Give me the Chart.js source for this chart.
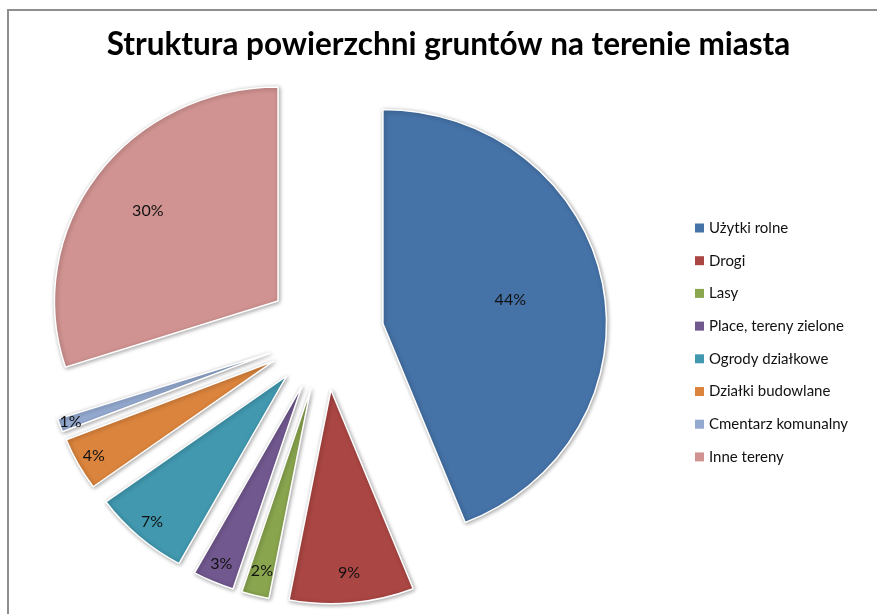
<!DOCTYPE html>
<html lang="pl">
<head>
<meta charset="utf-8">
<title>Struktura powierzchni gruntów</title>
<script src="https://cdn.jsdelivr.net/npm/chart.js@4"></script>
<style>
    html, body { margin: 0; padding: 0; background: #fff; overflow: hidden; }
    #ramka {
        position: absolute; left: 7px; top: 9px; width: 1000px; height: 1000px;
        border-left: 2px solid #8e8e8e; border-top: 2px solid #8e8e8e;
    }
    #wykres { position: absolute; left: 0; top: 0; width: 897px; height: 614px; }
</style>
</head>
<body>
<div id="ramka"></div>
<div id="wykres"><canvas id="pieChart"></canvas></div>
<script>
// Dane wykresu
const kategorie = [
    'Użytki rolne',
    'Drogi',
    'Lasy',
    'Place, tereny zielone',
    'Ogrody działkowe',
    'Działki budowlane',
    'Cmentarz komunalny',
    'Inne tereny'
];
const udzialy = [44, 9, 2, 3, 7, 4, 1, 30];

// Styl
const kolory = ['#4572A7', '#AA4643', '#89A54E', '#71588F', '#4198AF', '#DB843D', '#93A9CF', '#D09391'];
const etykietyPromien = [0.58, 0.86, 0.88, 0.91, 0.91, 0.92, 0.95, 0.72];
const wysuniecie = 56;
const skalaX = 1.045;

// Rozsunięte wycinki (rysowane przez elementy Chart.js)
const rozsuniecie = {
    id: 'rozsuniecie',
    afterLayout(chart) {
        // tytuł wyśrodkowany na całej szerokości, nie nad samym kołem
        const tytul = chart.titleBlock;
        if (tytul) {
            tytul.left = 0;
            tytul.right = chart.width;
            tytul.width = chart.width;
        }
    },
    beforeDatasetsDraw(chart) {
        const ctx = chart.ctx;
        const meta = chart.getDatasetMeta(0);
        const cx = meta.data[0].x;
        const cy = meta.data[0].y;
        ctx.save();
        ctx.translate(cx, cy);
        ctx.scale(skalaX, 1);
        ctx.translate(-cx, -cy);
        ctx.shadowColor = 'rgba(0,0,0,0.35)';
        ctx.shadowBlur = 4;
        ctx.shadowOffsetX = 1;
        ctx.shadowOffsetY = 1;
        meta.data.forEach(arc => {
            const srodek = (arc.startAngle + arc.endAngle) / 2;
            ctx.save();
            ctx.translate(Math.cos(srodek) * wysuniecie, Math.sin(srodek) * wysuniecie);
            arc.draw(ctx);
            ctx.restore();
        });
        ctx.restore();
        return false;
    },
    afterDraw(chart) {
        const ctx = chart.ctx;
        const meta = chart.getDatasetMeta(0);
        const cx = meta.data[0].x;
        const cy = meta.data[0].y;

        // Etykiety procentowe
        ctx.save();
        ctx.font = '16px Lato';
        ctx.fillStyle = '#111';
        ctx.textAlign = 'center';
        ctx.textBaseline = 'middle';
        meta.data.forEach((arc, i) => {
            const srodek = (arc.startAngle + arc.endAngle) / 2;
            const odl = wysuniecie + etykietyPromien[i] * arc.outerRadius;
            const x = cx + skalaX * Math.cos(srodek) * odl;
            const y = cy + Math.sin(srodek) * odl;
            ctx.fillText(udzialy[i] + '%', x, y);
        });

        // Legenda
        ctx.font = '15px Lato';
        ctx.textAlign = 'left';
        kategorie.forEach((nazwa, i) => {
            const y = 228 + i * 32.7;
            ctx.fillStyle = kolory[i];
            ctx.fillRect(695, y - 4.5, 9, 9);
            ctx.fillStyle = '#111';
            ctx.fillText(nazwa, 709, y);
        });
        ctx.restore();
    }
};

new Chart(document.getElementById('pieChart').getContext('2d'), {
    type: 'pie',
    data: {
        labels: kategorie,
        datasets: [{
            data: udzialy,
            backgroundColor: kolory,
            borderColor: '#ffffff',
            borderWidth: 1.5,
            radius: 214
        }]
    },
    options: {
        responsive: true,
        maintainAspectRatio: false,
        animation: false,
        layout: {
            padding: { left: 0, right: 246.2, top: 0, bottom: 9.8 }
        },
        plugins: {
            legend: { display: false },
            tooltip: { enabled: false },
            title: {
                display: true,
                text: 'Struktura powierzchni gruntów na terenie miasta',
                color: '#000',
                font: { family: 'Lato', size: 31.5, weight: 'bold', lineHeight: 1.2 },
                padding: { top: 26, bottom: 0 }
            }
        }
    },
    plugins: [rozsuniecie]
});
</script>
</body>
</html>
